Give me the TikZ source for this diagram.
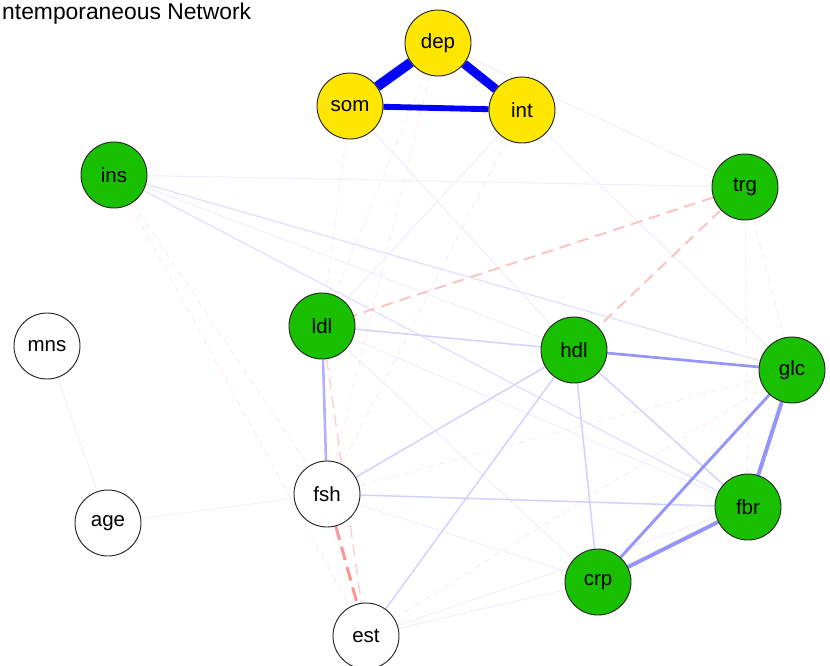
\documentclass[tikz,border=0pt]{standalone}
\usepackage{fontspec}
\setmainfont{Liberation Sans}
\usepackage{tikz}
\usetikzlibrary{backgrounds}

\definecolor{nodoamarillo}{RGB}{255,230,0}
\definecolor{nodoverde}{RGB}{25,192,0}
\definecolor{azulmedio}{RGB}{150,150,250}
\definecolor{azulclaro}{RGB}{210,210,255}
\definecolor{azulsuave}{RGB}{225,225,255}
\definecolor{azultenue}{RGB}{238,238,255}
\definecolor{rojomedio}{RGB}{255,150,150}
\definecolor{rojoclaro}{RGB}{255,192,192}
\definecolor{rojotenue}{RGB}{255,236,236}
\definecolor{gristenue}{RGB}{240,240,242}

\tikzset{
  var/.style={draw=black!85, line width=0.8pt, circle, minimum size=1.98cm, inner sep=0pt,
    font=\fontsize{17.5}{20}\selectfont},
  sint/.style={var, fill=nodoamarillo},
  bio/.style={var, fill=nodoverde},
  cov/.style={var, fill=white},
  posA/.style={draw=blue},
  posB/.style={draw=azulmedio},
  posC/.style={draw=azulclaro, line width=1.3pt},
  posCD/.style={draw=azulsuave, line width=1.1pt},
  posD/.style={draw=azultenue, line width=0.9pt},
  negB/.style={draw=rojomedio, line width=2.6pt, dash pattern=on 12pt off 6pt},
  negC/.style={draw=rojoclaro, line width=1.6pt, dash pattern=on 10pt off 6pt},
  negD/.style={draw=rojotenue, line width=0.9pt, dash pattern=on 6pt off 4pt},
  nulo/.style={draw=gristenue, line width=0.8pt}
}

\begin{document}
\begin{tikzpicture}[x=0.03cm, y=-0.03cm]
  \useasboundingbox (0,0) rectangle (830,666);
  \clip (0,0) rectangle (830,666);

  \node[anchor=base west, font=\fontsize{19.5}{24}\selectfont, inner sep=0pt] (titulo) at (2,19) {ntemporaneous Network};

  % Nodos
  \node[sint] (dep) at (438,43) {dep};
  \node[sint] (som) at (350,106) {som};
  \node[sint] (int) at (522,110) {int};
  \node[bio] (ins) at (114,175) {ins};
  \node[bio] (trg) at (745,187) {trg};
  \node[cov] (mns) at (47,346) {mns};
  \node[bio] (ldl) at (322,326) {ldl};
  \node[bio] (hdl) at (574,350) {hdl};
  \node[bio] (glc) at (792,370) {glc};
  \node[cov] (fsh) at (327,494) {fsh};
  \node[cov] (age) at (108,523) {age};
  \node[bio] (fbr) at (748,507) {fbr};
  \node[bio] (crp) at (598,582) {crp};
  \node[cov] (est) at (366,636) {est};

  % Aristas
  \begin{pgfonlayer}{background}
    \draw[nulo] (mns) -- (age);
    \draw[nulo] (age) -- (fsh);

    \draw[negD] (ins) -- (est);
    \draw[negD] (ins) -- (fsh);
    \draw[negD] (som) -- (ldl);
    \draw[negD] (dep) -- (ldl);
    \draw[negD] (int) -- (fsh);
    \draw[negD] (dep) -- (fsh);
    \draw[negD] (trg) -- (glc);
    \draw[negD] (trg) -- (fbr);
    \draw[negD] (fsh) -- (glc);
    \draw[negD] (est) -- (glc);

    \draw[posD] (int) -- (glc);
    \draw[posD] (ins) -- (trg);
    \draw[posD] (ins) -- (hdl);
    \draw[posD] (est) -- (crp);
    \draw[posD] (est) -- (fbr);
    \draw[posD] (ldl) -- (fbr);
    \draw[posD] (ldl) -- (crp);
    \draw[posD] (fsh) -- (crp);
    \draw[posD] (som) -- (hdl);
    \draw[posD] (int) -- (ldl);
    \draw[posD] (dep) -- (trg);

    \draw[posCD] (ins) -- (glc);
    \draw[posCD] (ins) -- (fbr);
    \draw[posC] (ldl) -- (hdl);
    \draw[posC] (fsh) -- (hdl);
    \draw[posC] (est) -- (hdl);
    \draw[posC] (hdl) -- (crp);
    \draw[posC] (hdl) -- (fbr);
    \draw[posC] (fsh) -- (fbr);

    \draw[negC] (trg) -- (ldl);
    \draw[negC] (trg) -- (hdl);
    \draw[negC, line width=1.2pt, draw=rojoclaro!80] (ldl) -- (est);
    \draw[negB] (fsh) -- (est);

    \draw[posB, line width=2.2pt, draw=azulmedio!75] (ldl) -- (fsh);
    \draw[posB, line width=2.3pt] (hdl) -- (glc);
    \draw[posB, line width=2.5pt] (glc) -- (crp);
    \draw[posB, line width=3.3pt] (fbr) -- (crp);
    \draw[posB, line width=3.4pt] (glc) -- (fbr);

    \draw[posA, line width=5pt] (som) -- (int);
    \draw[posA, line width=7.6pt] (dep) -- (int);
    \draw[posA, line width=8.5pt] (dep) -- (som);
  \end{pgfonlayer}
\end{tikzpicture}
\end{document}
